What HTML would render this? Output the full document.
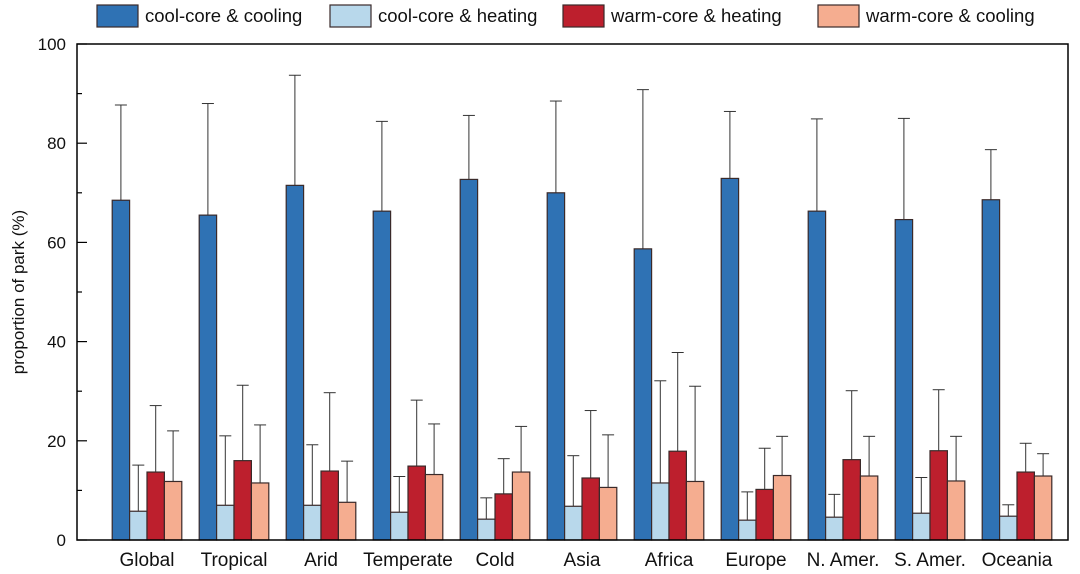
<!DOCTYPE html>
<html><head><meta charset="utf-8"><style>
body{margin:0;background:#fff}
svg{display:block;font-family:"Liberation Sans",Arial,sans-serif}
</style></head><body>
<svg id="chart" width="1080" height="574"></svg>
<script>
const categories=["Global","Tropical","Arid","Temperate","Cold","Asia","Africa","Europe","N. Amer.","S. Amer.","Oceania"];
const seriesNames=["cool-core & cooling","cool-core & heating","warm-core & heating","warm-core & cooling"];
const coolCooling=[68.5,65.5,71.5,66.3,72.7,70,58.7,72.9,66.3,64.6,68.6];
const coolCoolingErr=[87.7,88,93.7,84.4,85.6,88.5,90.8,86.4,84.9,85,78.7];
const coolHeating=[5.8,7,7,5.6,4.2,6.8,11.5,4,4.6,5.4,4.8];
const coolHeatingErr=[15.1,21,19.2,12.8,8.5,17,32.1,9.7,9.2,12.6,7.1];
const warmHeating=[13.7,16,13.9,14.9,9.3,12.5,17.9,10.2,16.2,18,13.7];
const warmHeatingErr=[27.1,31.2,29.7,28.2,16.4,26.1,37.8,18.5,30.1,30.3,19.5];
const warmCooling=[11.8,11.5,7.6,13.2,13.7,10.6,11.8,13,12.9,11.9,12.9];
const warmCoolingErr=[22,23.2,15.9,23.4,22.9,21.2,31,20.9,20.9,20.9,17.4];
const yTicks=[0,20,40,60,80,100];
const series=[coolCooling,coolHeating,warmHeating,warmCooling];
const errs=[coolCoolingErr,coolHeatingErr,warmHeatingErr,warmCoolingErr];
const colors=["#2f72b4","#b8d8eb","#bd1f2d","#f5ad90"];
const NS="http://www.w3.org/2000/svg";
const svg=document.getElementById("chart");
const L=77,R=1068,T=44,B=540;
const y=v=>B-(v/100)*(B-T);
const gx=i=>147+i*87;
const bw=17.4;
function el(t,a,p){const e=document.createElementNS(NS,t);for(const k in a)e.setAttribute(k,a[k]);(p||svg).appendChild(e);return e;}
series.forEach((s,si)=>{
  s.forEach((v,i)=>{
    const x=gx(i)-2*bw+si*bw;
    const e=errs[si][i];
    const ln=el("line",{x1:x+bw/2,x2:x+bw/2,y1:y(v),y2:y(e),stroke:"#333","stroke-width":1});
    
    
    const cap=el("line",{x1:x+bw/2-6,x2:x+bw/2+6,y1:y(e),y2:y(e),stroke:"#333","stroke-width":1});
    
    
    const r=el("rect",{x:x,y:y(v),width:bw,height:B-y(v),fill:colors[si],stroke:"#3a2a2a","stroke-width":1.2});
    
    
  });
});
const fr=el("rect",{x:L,y:T,width:R-L,height:B-T,fill:"none",stroke:"#000","stroke-width":1.5});


for(let v=0;v<=100;v+=10){
  const t=el("line",{x1:L,x2:L+(v%20===0?10:5),y1:y(v),y2:y(v),stroke:"#000","stroke-width":1.2});
  
  
}
yTicks.forEach(v=>{
  const t=el("text",{x:66,y:y(v)+6,"text-anchor":"end","font-size":17,fill:"#111"});
  t.textContent=v;
  
  
});
categories.forEach((c,i)=>{
  const t=el("text",{x:gx(i),y:566,"text-anchor":"middle","font-size":19,fill:"#111"});
  t.textContent=c;
  
  
});
const yt=el("text",{x:0,y:0,"text-anchor":"middle","font-size":17,fill:"#111",transform:"translate(24,292) rotate(-90)"});
yt.textContent="proportion of park (%)";


const lx=[97,330,563,818];
seriesNames.forEach((n,i)=>{
  const g=el("g",{});
  
  
  el("rect",{x:lx[i],y:5,width:41,height:22,fill:colors[i],stroke:"#3a2a2a","stroke-width":1.2},g);
  const t=el("text",{x:lx[i]+48,y:22,"font-size":18.5,fill:"#111"},g);
  t.textContent=n;
});
</script>
</body></html>
